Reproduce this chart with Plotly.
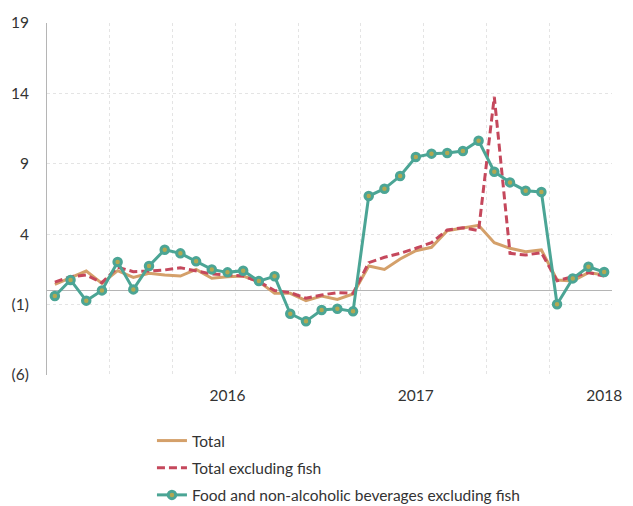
import plotly.graph_objects as go

months = list(range(36))
x_tick_vals = [11, 23, 35]
x_tick_text = ["2016", "2017", "2018"]
y_tick_vals = [19, 14, 9, 4, -1, -6]
y_tick_text = ["19", "14", "9", "4", "(1)", "(6)"]

total = [0.44, 0.93, 1.38, 0.51, 1.41, 0.93, 1.22, 1.10, 1.03, 1.50, 0.87, 0.98,
         1.03, 0.63, -0.20, -0.20, -0.72, -0.39, -0.63, -0.25, 1.74, 1.50, 2.24, 2.83,
         3.07, 4.25, 4.46, 4.63, 3.40, 3.00, 2.76, 2.88, 0.75, 0.67, 1.27, 1.10]
total_ex_fish = [0.60, 0.98, 1.10, 0.56, 1.65, 1.34, 1.38, 1.46, 1.62, 1.38, 1.17, 1.10,
                 1.03, 0.63, 0.00, -0.15, -0.55, -0.32, -0.15, -0.20, 1.98, 2.36, 2.64, 3.00,
                 3.40, 4.30, 4.46, 4.25, 13.76, 2.64, 2.52, 2.69, 0.70, 0.98, 1.27, 1.03]
food_ex_fish = [-0.39, 0.75, -0.72, 0.01, 2.02, 0.08, 1.74, 2.90, 2.64, 2.07, 1.50, 1.29,
                1.41, 0.67, 1.01, -1.65, -2.19, -1.38, -1.29, -1.48, 6.71, 7.23, 8.13, 9.48,
                9.72, 9.77, 9.91, 10.64, 8.44, 7.68, 7.09, 7.00, -0.98, 0.86, 1.69, 1.31]

grid_vals = [-0.5 + 4 * i for i in range(10)]

fig = go.Figure()
fig.add_trace(go.Scatter(x=months, y=total, mode="lines", name="Total",
                         line=dict(color="#D4A06A", width=3), legendgroup="a"))
fig.add_trace(go.Scatter(x=months, y=total_ex_fish, mode="lines", name="Total excluding fish",
                         line=dict(color="#C5485C", width=3, dash="8px,4px"), legendgroup="b"))
fig.add_trace(go.Scatter(x=months, y=food_ex_fish, mode="lines+markers",
                         name="Food and non-alcoholic beverages excluding fish",
                         line=dict(color="#4BA595", width=3),
                         marker=dict(size=7.5, color="#B3A852", line=dict(color="#4BA595", width=3)),
                         legendgroup="c"))

fig.update_layout(
    width=633, height=506,
    margin=dict(l=46, r=11, t=23, b=131),
    plot_bgcolor="white", paper_bgcolor="white",
    font=dict(family="Lato", size=15.5, color="#333333"),
    showlegend=True,
    legend=dict(x=(153 - 46) / 576, y=(506 - 424) / 506, xref="paper", yref="container",
                xanchor="left", yanchor="top",
                traceorder="grouped", tracegroupgap=4,
                bgcolor="rgba(0,0,0,0)",
                font=dict(size=15.5, color="#333333")),
    xaxis=dict(range=[-0.5, 35.5], tickmode="array", tickvals=x_tick_vals, ticktext=x_tick_text,
               tickangle=0,
               showgrid=False, zeroline=False, showline=False,
               ticks="outside", ticklen=6, tickcolor="rgba(0,0,0,0)",
               minor=dict(tickmode="array", tickvals=grid_vals, showgrid=True,
                          gridcolor="#e4e4e4", griddash="dot", gridwidth=1)),
    yaxis=dict(range=[-6, 19], tickmode="array", tickvals=y_tick_vals, ticktext=y_tick_text,
               showgrid=True, gridcolor="#e4e4e4", griddash="dot", gridwidth=1,
               zeroline=True, zerolinecolor="#b5b5b5", zerolinewidth=1,
               showline=True, linecolor="#b5b5b5", linewidth=1,
               ticks="outside", ticklen=14, tickcolor="rgba(0,0,0,0)"),
)

fig.write_html("out.html")
